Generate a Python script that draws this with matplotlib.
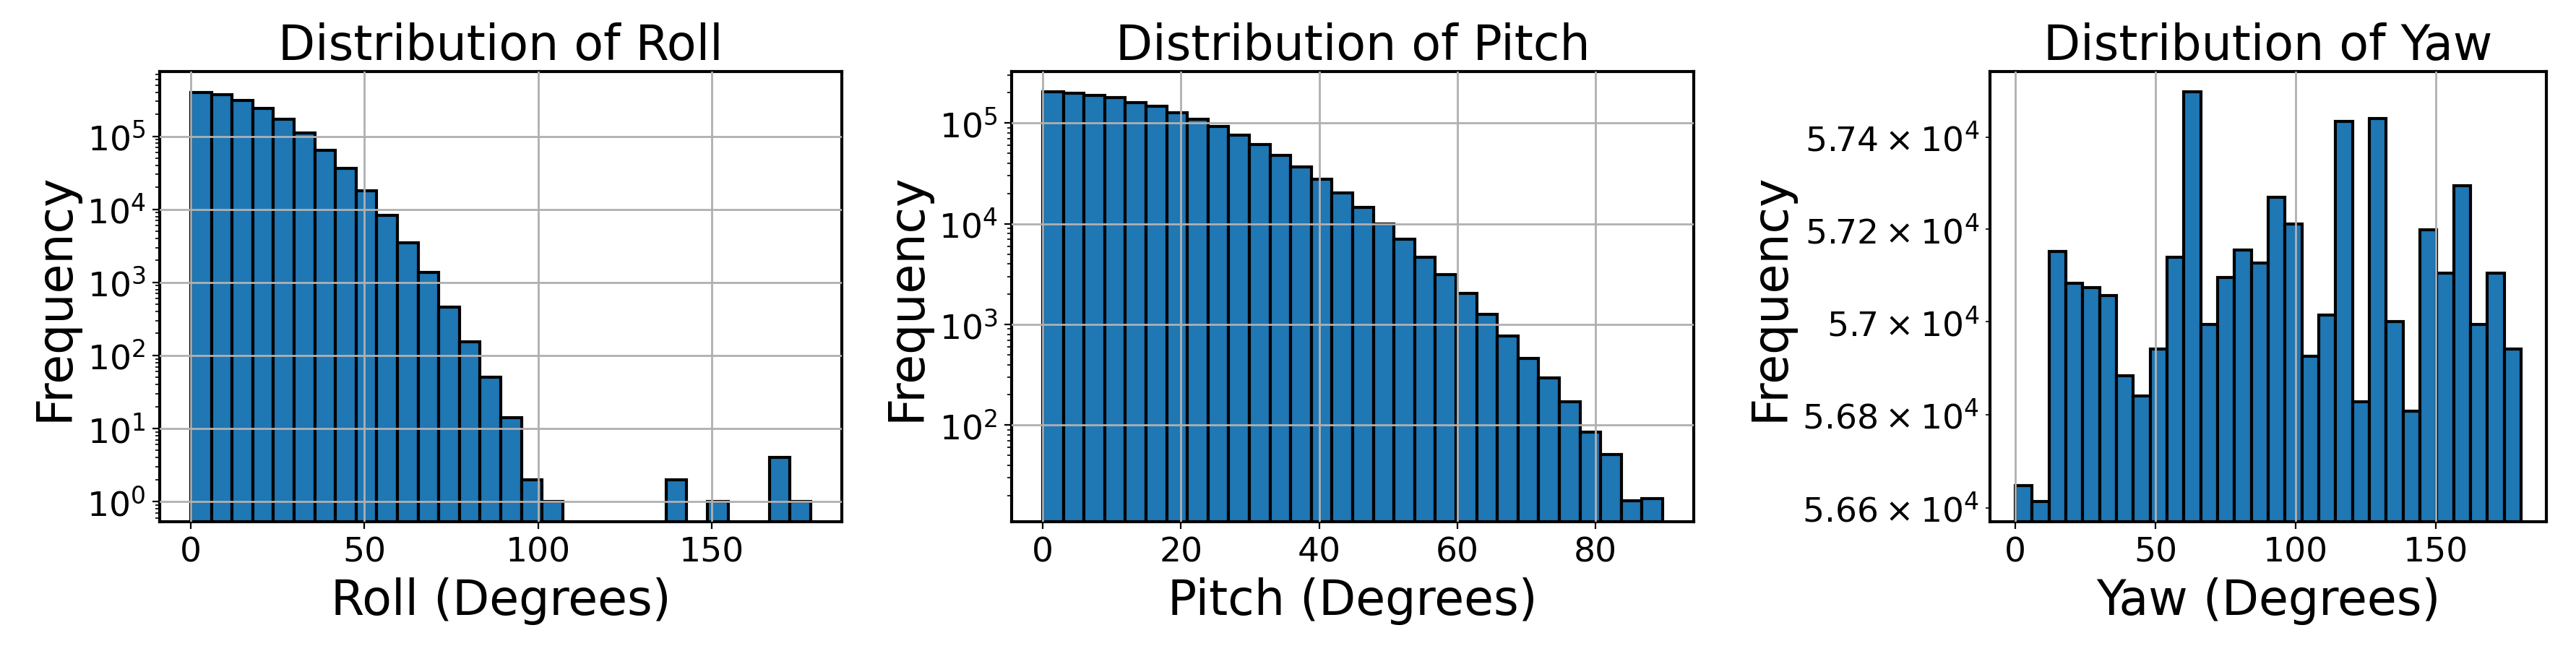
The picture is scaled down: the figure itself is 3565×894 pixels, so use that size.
import numpy as np
import matplotlib
matplotlib.use("Agg")
import matplotlib.pyplot as plt

roll_counts = [4.0e5, 3.7e5, 3.1e5, 2.4e5, 1.7e5, 1.1e5, 6.5e4, 3.6e4, 1.8e4, 8.2e3,
               3.5e3, 1.36e3, 460, 155, 50, 14, 2, 1, 0, 0,
               0, 0, 0, 2, 0, 1, 0, 0, 4, 1]
roll_range = (0, 178.5)
pitch_counts = [2.04e5, 1.97e5, 1.88e5, 1.79e5, 1.61e5, 1.47e5, 1.26e5, 1.09e5, 9.3e4, 7.6e4,
                6.1e4, 4.8e4, 3.7e4, 2.76e4, 2.03e4, 1.46e4, 1.0e4, 7.08e3, 4.65e3, 3.13e3,
                2.04e3, 1.27e3, 766, 459, 293, 171, 85, 51, 17.7, 18.8]
pitch_range = (0, 89.7)
yaw_counts = [56648, 56614, 57152, 57084, 57074, 57057, 56884, 56840, 56941, 57140,
              57499, 56994, 57096, 57156, 57127, 57269, 57212, 56926, 57015, 57434,
              56828, 57440, 57001, 56807, 57199, 57105, 57294, 56994, 57105, 56941]
yaw_range = (0, 180.3)

fig = plt.figure(figsize=(17.83, 4.475), dpi=200)
H = 895; W = 3566
def rect(l, r, t=100, b=723):
    return [l / W, 1 - b / H, (r - l) / W, (b - t) / H]

panels = [
    ("Roll", roll_counts, roll_range, rect(221, 1165), (0.53, 7.7e5)),
    ("Pitch", pitch_counts, pitch_range, rect(1400, 2344), (11, 3.25e5)),
    ("Yaw", yaw_counts, yaw_range, rect(2754, 3524), (56570, 57543)),
]
for name, counts, rng, pos, ylim in panels:
    ax = fig.add_axes(pos)
    edges = np.linspace(rng[0], rng[1], len(counts) + 1)
    centers = (edges[:-1] + edges[1:]) / 2
    ax.hist(centers, bins=edges, weights=counts, color="#1f77b4",
            edgecolor="black", linewidth=1.5, log=True)
    ax.set_yscale("log")
    ax.set_ylim(*ylim)
    ax.grid(True, color="#b0b0b0", linewidth=1)
    ax.set_axisbelow(False)
    ax.set_title(f"Distribution of {name}", fontsize=24)
    ax.set_xlabel(f"{name} (Degrees)", fontsize=24)
    ax.set_ylabel("Frequency", fontsize=24)
    ax.tick_params(which="both", labelsize=17)
    for s in ax.spines.values():
        s.set_linewidth(1.5)

fig.savefig("out.png", dpi=200)
